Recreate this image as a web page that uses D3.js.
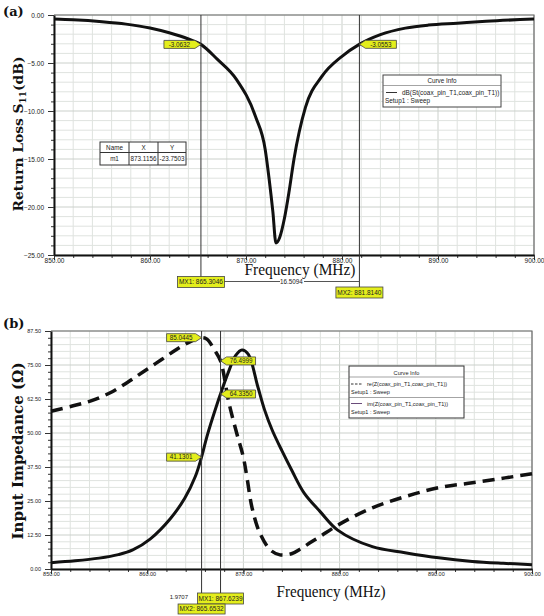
<!DOCTYPE html>
<html><head><meta charset="utf-8">
<script src="https://cdn.jsdelivr.net/npm/d3@7"></script>
<style>body{margin:0;background:#fff}svg{display:block}</style>
</head><body>
<svg id="c" width="544" height="616"></svg>
<script>
// ---------- DATA ----------
const xMajor = [850, 860, 870, 880, 890, 900];
const yMajorA = [0, -5, -10, -15, -20, -25];
const yMajorB = [0, 12.5, 25, 37.5, 50, 62.5, 75, 87.5];

// Panel (a): return loss S11 (dB)
const freqA = [850, 852, 855, 857.5, 860, 862, 864, 865.3, 867, 869, 871, 872, 872.4, 872.8, 873.12, 873.5, 874, 874.5, 875, 876.2, 877.9, 880, 881.8, 884, 886.6, 889, 892, 895, 900];
const s11 = [-0.42, -0.5, -0.7, -0.95, -1.35, -1.85, -2.5, -3.06, -4.6, -6.7, -10.6, -14.0, -17.0, -20.5, -23.75, -23.2, -21.2, -18.3, -15.0, -9.6, -6.4, -4.3, -3.06, -2.05, -1.37, -1.05, -0.85, -0.65, -0.42];

// Panel (b): input impedance
const freqRe = [850, 852.3, 854.3, 856.1, 857.9, 859.6, 861.5, 863.4, 864.7, 865.65, 866.2, 867, 867.62, 868.5, 869.3, 870, 870.4, 870.9, 871.7, 872.8, 873.8, 875, 876, 877, 878, 880, 883.4, 886.8, 890.3, 893.8, 897.2, 900];
const reZ = [58, 60, 62, 64.7, 68.5, 72.5, 77, 81.5, 84, 85.04, 84.5, 80.5, 76.5, 61, 50, 41, 33, 22.5, 13.3, 7, 5.2, 5.6, 7.5, 9.8, 12, 16.5, 22.5, 26.6, 29.9, 31.7, 33.5, 35];
const freqIm = [850, 852.5, 855, 857, 858.5, 860.3, 862.4, 863.9, 865, 865.65, 866.2, 867.3, 867.62, 868.4, 869.2, 869.85, 870.5, 871.5, 872.2, 873, 874, 875, 876.3, 878, 879.8, 883.4, 886.8, 890.3, 893.8, 897, 900];
const imZ = [2.3, 3.0, 4.0, 5.3, 7.0, 11.0, 18.5, 26, 34, 41.13, 48.6, 61, 64.33, 72, 78.5, 80.5, 79, 67, 58.5, 51, 43.5, 36.5, 28, 21, 14.3, 8.2, 6, 4.1, 2.8, 2.1, 1.6];

// Markers
const markersA = [
  {name: "MX1", f: 865.3046, val: -3.0632, valText: "-3.0632", dir: "right"},
  {name: "MX2", f: 881.8140, val: -3.0553, valText: "-3.0553", dir: "left"}
];
const deltaA = "16.5094";
const tableA = {name: "m1", x: "873.1156", y: "-23.7503"};
const markersB = [
  {name: "MX1", f: 867.6239},
  {name: "MX2", f: 865.6532}
];
const flagsB = [
  {f: 865.6532, val: 85.0445, text: "85.0445", dir: "right"},
  {f: 865.6532, val: 41.1301, text: "41.1301", dir: "right"},
  {f: 867.6239, val: 76.4999, text: "76.4999", dir: "left"},
  {f: 867.6239, val: 64.3350, text: "64.3350", dir: "left"}
];
const deltaB = "1.9707";

// ---------- DRAW ----------
const svg = d3.select("#c");
const SANS = "'Liberation Sans', Arial, sans-serif";
const FLAG = "#e4ee1c";
const fmt2 = d3.format(".2f");

function gridAndAxes(g, x, y, xMinorStep, yMinorStep, yMajor, fs) {
  const [x0, x1] = x.range(), [y0, y1] = y.range(); // y0 bottom
  const [fx0, fx1] = x.domain(), [fy0, fy1] = y.domain();
  const xm = d3.range(fx0, fx1 + 1e-6, xMinorStep);
  const ym = d3.range(fy0, fy1 + 1e-6, yMinorStep);
  g.append("g").selectAll("line").data(xm).join("line")
    .attr("x1", d => x(d)).attr("x2", d => x(d)).attr("y1", y1).attr("y2", y0)
    .attr("stroke", d => xMajor.includes(+d.toFixed(4)) ? "#cbd0cb" : "#dfe3df").attr("stroke-width", 1);
  g.append("g").selectAll("line").data(ym).join("line")
    .attr("x1", x0).attr("x2", x1).attr("y1", d => y(d)).attr("y2", d => y(d))
    .attr("stroke", d => yMajor.includes(+d.toFixed(4)) ? "#cbd0cb" : "#dfe3df").attr("stroke-width", 1);
  g.append("path").attr("d", `M${x0},${y1}H${x1}V${y0}`).attr("fill", "none").attr("stroke", "#6d6d6d").attr("stroke-width", 1.2);

  g.append("g").attr("transform", `translate(0,${y0})`)
    .call(d3.axisBottom(x).tickValues(xm).tickSize(3).tickFormat(""))
    .call(a => a.select(".domain").remove());
  g.append("g").attr("transform", `translate(${x0},0)`)
    .call(d3.axisLeft(y).tickValues(ym).tickSize(3).tickFormat(""))
    .call(a => a.select(".domain").remove());
  const ax = g.append("g").attr("transform", `translate(0,${y0})`)
    .call(d3.axisBottom(x).tickValues(xMajor).tickSize(5).tickSizeOuter(0).tickPadding(-2).tickFormat(fmt2));
  ax.select(".domain").attr("stroke", "#111").attr("stroke-width", 2);
  ax.selectAll("text").attr("font-family", SANS).attr("font-size", fs).attr("fill", "#222");
  const ay = g.append("g").attr("transform", `translate(${x0},0)`)
    .call(d3.axisLeft(y).tickValues(yMajor).tickSize(6).tickSizeOuter(0).tickPadding(4).tickFormat(fmt2));
  ay.select(".domain").attr("stroke", "#111").attr("stroke-width", 2);
  ay.selectAll("text").attr("font-family", SANS).attr("font-size", fs).attr("fill", "#222");
  g.selectAll(".tick line").attr("stroke", "#333");
}

function flag(g, tx, ty, text, dir, w = 31, h = 8) {
  const a = 6;
  let d;
  if (dir === "right") {
    d = `M${tx},${ty}L${tx - a},${ty - h / 2}H${tx - a - w}V${ty + h / 2}H${tx - a}Z`;
  } else {
    d = `M${tx},${ty}L${tx + a},${ty - h / 2}H${tx + a + w}V${ty + h / 2}H${tx + a}Z`;
  }
  g.append("path").attr("d", d).attr("fill", FLAG).attr("stroke", "#444").attr("stroke-width", 0.8);
  const cx = dir === "right" ? tx - a - w / 2 : tx + a + w / 2;
  g.append("text").attr("x", cx).attr("y", ty + 2.2).attr("text-anchor", "middle")
    .attr("font-family", SANS).attr("font-size", 6.3).attr("fill", "#222").text(text);
}

function box(g, cx, y0, text, w = 47, h = 11) {
  g.append("rect").attr("x", cx - w / 2).attr("y", y0).attr("width", w).attr("height", h)
    .attr("fill", FLAG).attr("stroke", "#444").attr("stroke-width", 0.8);
  g.append("text").attr("x", cx).attr("y", y0 + h / 2 + 2.3).attr("text-anchor", "middle")
    .attr("font-family", SANS).attr("font-size", 6.5).attr("fill", "#222").text(text);
}

// ===== Panel (a) =====
{
  const g = svg.append("g");
  const x = d3.scaleLinear().domain([850, 900]).range([54, 534]);
  const y = d3.scaleLinear().domain([-25, 0]).range([255, 15]);
  gridAndAxes(g, x, y, 2, 1, yMajorA, 6.5);

  const pts = freqA.map((f, i) => [f, s11[i]]);
  g.append("path").datum(pts)
    .attr("d", d3.line().x(d => x(d[0])).y(d => y(d[1])).curve(d3.curveMonotoneX))
    .attr("fill", "none").attr("stroke", "#111").attr("stroke-width", 3).attr("stroke-linejoin", "round");

  const xm1 = x(markersA[0].f), xm2 = x(markersA[1].f);
  g.append("line").attr("x1", xm1).attr("x2", xm1).attr("y1", 15).attr("y2", 277).attr("stroke", "#333").attr("stroke-width", 1);
  g.append("line").attr("x1", xm2).attr("x2", xm2).attr("y1", 15).attr("y2", 287).attr("stroke", "#333").attr("stroke-width", 1);
  markersA.forEach(m => flag(g, x(m.f), y(m.val), m.valText, m.dir));

  g.append("text").attr("x", 300).attr("y", 274.5).attr("text-anchor", "middle")
    .attr("font-family", "'Liberation Serif', 'Times New Roman', serif").attr("font-size", 16.5)
    .attr("textLength", 111).attr("lengthAdjust", "spacingAndGlyphs").attr("fill", "#111")
    .text("Frequency (MHz)");

  g.append("line").attr("x1", xm1 + 23).attr("x2", xm2).attr("y1", 281.5).attr("y2", 281.5).attr("stroke", "#555").attr("stroke-width", 1);
  g.append("rect").attr("x", 280).attr("y", 279).attr("width", 24).attr("height", 6.5).attr("fill", "#fff");
  g.append("text").attr("x", 291.5).attr("y", 284.3).attr("text-anchor", "middle")
    .attr("font-family", SANS).attr("font-size", 6.3).attr("fill", "#222").text(deltaA);

  box(g, xm1, 276.5, `${markersA[0].name}: ${markersA[0].f.toFixed(4)}`);
  box(g, xm2, 287, `${markersA[1].name}: ${markersA[1].f.toFixed(4)}`);

  const tx = 100, ty = 142, tw = 86, th = 23;
  const tg = g.append("g");
  tg.append("rect").attr("x", tx).attr("y", ty).attr("width", tw).attr("height", th).attr("fill", "#fff").attr("stroke", "#333").attr("stroke-width", 1);
  tg.append("line").attr("x1", tx).attr("x2", tx + tw).attr("y1", ty + 10.5).attr("y2", ty + 10.5).attr("stroke", "#333");
  tg.append("line").attr("x1", 129).attr("x2", 129).attr("y1", ty).attr("y2", ty + th).attr("stroke", "#333");
  tg.append("line").attr("x1", 158).attr("x2", 158).attr("y1", ty).attr("y2", ty + th).attr("stroke", "#333");
  const cells = [["Name", 114.5, ty + 8], ["X", 143.5, ty + 8], ["Y", 172, ty + 8],
                 [tableA.name, 114.5, ty + 19], [tableA.x, 143.5, ty + 19], [tableA.y, 172, ty + 19]];
  cells.forEach(c => tg.append("text").attr("x", c[1]).attr("y", c[2]).attr("text-anchor", "middle")
    .attr("font-family", SANS).attr("font-size", 6.3).attr("fill", "#222").text(c[0]));

  const lg = g.append("g");
  lg.append("rect").attr("x", 383).attr("y", 75).attr("width", 118).attr("height", 32).attr("fill", "#fff").attr("stroke", "#444").attr("stroke-width", 1);
  lg.append("line").attr("x1", 383).attr("x2", 501).attr("y1", 85.5).attr("y2", 85.5).attr("stroke", "#666").attr("stroke-width", 0.6);
  lg.append("text").attr("x", 442).attr("y", 83).attr("text-anchor", "middle").attr("font-family", SANS).attr("font-size", 6.3).attr("fill", "#222").text("Curve Info");
  lg.append("line").attr("x1", 386).attr("x2", 397).attr("y1", 92.5).attr("y2", 92.5).attr("stroke", "#333").attr("stroke-width", 1);
  lg.append("text").attr("x", 402).attr("y", 95).attr("font-family", SANS).attr("font-size", 6.4).attr("fill", "#222").text("dB(St(coax_pin_T1,coax_pin_T1))");
  lg.append("text").attr("x", 385).attr("y", 103).attr("font-family", SANS).attr("font-size", 6.4).attr("fill", "#222").text("Setup1 : Sweep");

  g.append("text").attr("x", 3).attr("y", 16).attr("font-family", "'DejaVu Serif', serif").attr("font-weight", "bold").attr("font-size", 13).attr("fill", "#111").text("(a)");
  const yl = g.append("text").attr("transform", "translate(23,134) rotate(-90)").attr("text-anchor", "middle")
    .attr("font-family", "'DejaVu Serif', serif").attr("font-weight", "bold").attr("font-size", 13.8).attr("fill", "#111");
  yl.append("tspan").text("Return Loss S");
  yl.append("tspan").attr("font-size", 9).attr("dy", 3).text("11");
  yl.append("tspan").attr("dy", -3).text("(dB)");
}

// ===== Panel (b) =====
{
  const g = svg.append("g");
  const x = d3.scaleLinear().domain([850, 900]).range([51, 532]);
  const y = d3.scaleLinear().domain([0, 87.5]).range([569, 331]);
  gridAndAxes(g, x, y, 2, 2.5, yMajorB, 5.5);

  const line = d3.line().x(d => x(d[0])).y(d => y(d[1])).curve(d3.curveCatmullRom.alpha(0.5));
  g.append("path").datum(freqIm.map((f, i) => [f, imZ[i]])).attr("d", line)
    .attr("fill", "none").attr("stroke", "#111").attr("stroke-width", 3);
  g.append("path").datum(freqRe.map((f, i) => [f, reZ[i]])).attr("d", line)
    .attr("fill", "none").attr("stroke", "#111").attr("stroke-width", 3.5).attr("stroke-dasharray", "12,7");

  const xm1 = x(markersB[0].f), xm2 = x(markersB[1].f);
  g.append("line").attr("x1", xm1).attr("x2", xm1).attr("y1", 331).attr("y2", 593).attr("stroke", "#333").attr("stroke-width", 1);
  g.append("line").attr("x1", xm2).attr("x2", xm2).attr("y1", 331).attr("y2", 604).attr("stroke", "#333").attr("stroke-width", 1);
  flagsB.forEach(fl => flag(g, x(fl.f), y(fl.val), fl.text, fl.dir, 29, 8));

  g.append("text").attr("x", 331).attr("y", 597).attr("text-anchor", "middle")
    .attr("font-family", "'Liberation Serif', 'Times New Roman', serif").attr("font-size", 17)
    .attr("textLength", 109).attr("lengthAdjust", "spacingAndGlyphs").attr("fill", "#111")
    .text("Frequency (MHz)");

  box(g, xm1, 593, `${markersB[0].name}: ${markersB[0].f.toFixed(4)}`, 46, 11);
  box(g, xm2, 604, `${markersB[1].name}: ${markersB[1].f.toFixed(4)}`, 47, 10);
  g.append("text").attr("x", 188).attr("y", 599).attr("text-anchor", "end")
    .attr("font-family", SANS).attr("font-size", 6).attr("fill", "#222").text(deltaB);

  const lg = g.append("g");
  const bx = 349, by = 366, bw = 115, bh = 52;
  lg.append("rect").attr("x", bx).attr("y", by).attr("width", bw).attr("height", bh).attr("fill", "#fff").attr("stroke", "#333").attr("stroke-width", 1);
  lg.append("line").attr("x1", bx).attr("x2", bx + bw).attr("y1", by + 11).attr("y2", by + 11).attr("stroke", "#666").attr("stroke-width", 0.6);
  lg.append("line").attr("x1", bx).attr("x2", bx + bw).attr("y1", by + 31.5).attr("y2", by + 31.5).attr("stroke", "#666").attr("stroke-width", 0.6);
  lg.append("text").attr("x", bx + bw / 2).attr("y", by + 8.5).attr("text-anchor", "middle").attr("font-family", SANS).attr("font-size", 5.6).attr("fill", "#222").text("Curve Info");
  lg.append("line").attr("x1", bx + 2).attr("x2", bx + 13).attr("y1", by + 18).attr("y2", by + 18).attr("stroke", "#333").attr("stroke-width", 1).attr("stroke-dasharray", "2.5,1.5");
  lg.append("text").attr("x", bx + 18).attr("y", by + 20).attr("font-family", SANS).attr("font-size", 5.5).attr("fill", "#222").text("re(Z(coax_pin_T1,coax_pin_T1))");
  lg.append("text").attr("x", bx + 2).attr("y", by + 28).attr("font-family", SANS).attr("font-size", 5.5).attr("fill", "#222").text("Setup1 : Sweep");
  lg.append("line").attr("x1", bx + 2).attr("x2", bx + 13).attr("y1", by + 37.5).attr("y2", by + 37.5).attr("stroke", "#6a4c7a").attr("stroke-width", 1);
  lg.append("text").attr("x", bx + 18).attr("y", by + 39.5).attr("font-family", SANS).attr("font-size", 5.5).attr("fill", "#222").text("im(Z(coax_pin_T1,coax_pin_T1))");
  lg.append("text").attr("x", bx + 2).attr("y", by + 47.5).attr("font-family", SANS).attr("font-size", 5.5).attr("fill", "#222").text("Setup1 : Sweep");

  g.append("text").attr("x", 3).attr("y", 328).attr("font-family", "'DejaVu Serif', serif").attr("font-weight", "bold").attr("font-size", 13).attr("fill", "#111").text("(b)");
  g.append("text").attr("transform", "translate(23,451) rotate(-90)").attr("text-anchor", "middle")
    .attr("font-family", "'DejaVu Serif', serif").attr("font-weight", "bold").attr("font-size", 15).attr("fill", "#111")
    .text("Input Impedance (\u03A9)");
}
</script>
</body></html>
